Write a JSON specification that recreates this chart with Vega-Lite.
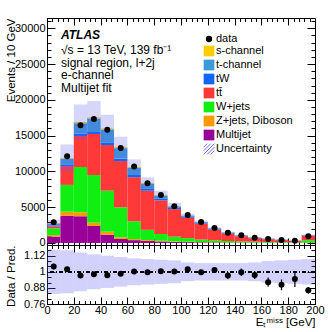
{
  "$schema": "https://vega.github.io/schema/vega-lite/v6.json",
  "background": "white",
  "padding": {"left": 4, "top": 14, "right": 8, "bottom": 0},
  "datasets": {
    "procs": [
      {"key": "mj", "process": "Multijet", "ord": 1},
      {"key": "zj", "process": "Z+jets, Diboson", "ord": 2},
      {"key": "wj", "process": "W+jets", "ord": 3},
      {"key": "tt", "process": "tt\u0304", "ord": 4},
      {"key": "tw", "process": "tW", "ord": 5},
      {"key": "tc", "process": "t-channel", "ord": 6},
      {"key": "sc", "process": "s-channel", "ord": 7}
    ],
    "bins": [
      {"lo": 0, "hi": 10, "mid": 5, "data": 2890, "ratio": 1.04, "rerr": 0.02, "ulo": 2321, "uhi": 3239, "rlo": 0.835, "rhi": 1.165, "mj": 900, "zj": 200, "wj": 950, "tt": 280, "tw": 95, "tc": 285, "sc": 70},
      {"lo": 10, "hi": 20, "mid": 15, "data": 12110, "ratio": 1.02, "rerr": 0.01, "ulo": 9971, "uhi": 13769, "rlo": 0.84, "rhi": 1.16, "mj": 3820, "zj": 560, "wj": 3740, "tt": 2630, "tw": 250, "tc": 780, "sc": 90},
      {"lo": 20, "hi": 30, "mid": 25, "data": 16440, "ratio": 0.972, "rerr": 0.008, "ulo": 14458, "uhi": 19362, "rlo": 0.855, "rhi": 1.145, "mj": 3730, "zj": 560, "wj": 6330, "tt": 4330, "tw": 350, "tc": 1450, "sc": 160},
      {"lo": 30, "hi": 40, "mid": 35, "data": 17320, "ratio": 0.982, "rerr": 0.008, "ulo": 15269, "uhi": 19832, "rlo": 0.87, "rhi": 1.13, "mj": 2380, "zj": 460, "wj": 6660, "tt": 5730, "tw": 280, "tc": 1890, "sc": 150},
      {"lo": 40, "hi": 50, "mid": 45, "data": 15830, "ratio": 0.974, "rerr": 0.008, "ulo": 14080, "uhi": 17920, "rlo": 0.88, "rhi": 1.12, "mj": 1160, "zj": 420, "wj": 5730, "tt": 6380, "tw": 380, "tc": 1780, "sc": 150},
      {"lo": 50, "hi": 60, "mid": 55, "data": 13270, "ratio": 0.985, "rerr": 0.009, "ulo": 11908, "uhi": 14852, "rlo": 0.89, "rhi": 1.11, "mj": 560, "zj": 240, "wj": 4190, "tt": 6460, "tw": 350, "tc": 1450, "sc": 130},
      {"lo": 60, "hi": 70, "mid": 65, "data": 10690, "ratio": 1.003, "rerr": 0.01, "ulo": 9558, "uhi": 11682, "rlo": 0.9, "rhi": 1.1, "mj": 400, "zj": 150, "wj": 2480, "tt": 6170, "tw": 300, "tc": 1000, "sc": 120},
      {"lo": 70, "hi": 80, "mid": 75, "data": 8360, "ratio": 0.997, "rerr": 0.011, "ulo": 7593, "uhi": 9187, "rlo": 0.905, "rhi": 1.095, "mj": 300, "zj": 120, "wj": 1420, "tt": 5460, "tw": 250, "tc": 750, "sc": 90},
      {"lo": 80, "hi": 90, "mid": 85, "data": 6720, "ratio": 1.005, "rerr": 0.012, "ulo": 6097, "uhi": 7303, "rlo": 0.91, "rhi": 1.09, "mj": 220, "zj": 100, "wj": 940, "tt": 4700, "tw": 220, "tc": 450, "sc": 70},
      {"lo": 90, "hi": 100, "mid": 95, "data": 5120, "ratio": 1.003, "rerr": 0.014, "ulo": 4721, "uhi": 5599, "rlo": 0.915, "rhi": 1.085, "mj": 150, "zj": 80, "wj": 650, "tt": 3850, "tw": 180, "tc": 200, "sc": 50},
      {"lo": 100, "hi": 110, "mid": 105, "data": 3910, "ratio": 1.02, "rerr": 0.016, "ulo": 3562, "uhi": 4098, "rlo": 0.93, "rhi": 1.07, "mj": 120, "zj": 60, "wj": 500, "tt": 2850, "tw": 140, "tc": 130, "sc": 30},
      {"lo": 110, "hi": 120, "mid": 115, "data": 2930, "ratio": 0.997, "rerr": 0.018, "ulo": 2749, "uhi": 3131, "rlo": 0.935, "rhi": 1.065, "mj": 90, "zj": 50, "wj": 330, "tt": 2240, "tw": 110, "tc": 100, "sc": 20},
      {"lo": 120, "hi": 130, "mid": 125, "data": 2090, "ratio": 1.013, "rerr": 0.022, "ulo": 1926, "uhi": 2194, "rlo": 0.935, "rhi": 1.065, "mj": 70, "zj": 40, "wj": 260, "tt": 1520, "tw": 80, "tc": 70, "sc": 20},
      {"lo": 130, "hi": 140, "mid": 135, "data": 1440, "ratio": 0.972, "rerr": 0.025, "ulo": 1384, "uhi": 1576, "rlo": 0.935, "rhi": 1.065, "mj": 50, "zj": 30, "wj": 200, "tt": 1050, "tw": 70, "tc": 60, "sc": 20},
      {"lo": 140, "hi": 150, "mid": 145, "data": 1070, "ratio": 0.997, "rerr": 0.028, "ulo": 1000, "uhi": 1140, "rlo": 0.935, "rhi": 1.065, "mj": 40, "zj": 25, "wj": 160, "tt": 720, "tw": 55, "tc": 50, "sc": 20},
      {"lo": 150, "hi": 160, "mid": 155, "data": 750, "ratio": 0.977, "rerr": 0.03, "ulo": 716, "uhi": 824, "rlo": 0.93, "rhi": 1.07, "mj": 30, "zj": 20, "wj": 130, "tt": 500, "tw": 45, "tc": 35, "sc": 10},
      {"lo": 160, "hi": 170, "mid": 165, "data": 560, "ratio": 0.923, "rerr": 0.035, "ulo": 558, "uhi": 656, "rlo": 0.92, "rhi": 1.08, "mj": 25, "zj": 15, "wj": 110, "tt": 380, "tw": 40, "tc": 30, "sc": 7},
      {"lo": 170, "hi": 180, "mid": 175, "data": 420, "ratio": 0.903, "rerr": 0.04, "ulo": 425, "uhi": 505, "rlo": 0.915, "rhi": 1.085, "mj": 20, "zj": 12, "wj": 95, "tt": 270, "tw": 35, "tc": 25, "sc": 8},
      {"lo": 180, "hi": 190, "mid": 185, "data": 320, "ratio": 0.946, "rerr": 0.06, "ulo": 309, "uhi": 371, "rlo": 0.91, "rhi": 1.09, "mj": 15, "zj": 10, "wj": 80, "tt": 190, "tw": 25, "tc": 15, "sc": 5},
      {"lo": 190, "hi": 200, "mid": 195, "data": 930, "ratio": 0.862, "rerr": 0.025, "ulo": 977, "uhi": 1183, "rlo": 0.905, "rhi": 1.095, "mj": 40, "zj": 25, "wj": 330, "tt": 580, "tw": 50, "tc": 45, "sc": 10}
    ]
  },
  "spacing": 0,
  "bounds": "flush",
  "vconcat": [
    {
      "width": 268,
      "height": 227,
      "title": {
        "text": "ATLAS",
        "subtitle": ["\u221as = 13 TeV, 139 fb\u207b\u00b9", "signal region, l+2j", "e-channel", "Multijet fit"],
        "anchor": "start",
        "frame": "group",
        "offset": -80,
        "dx": 14,
        "font": "Liberation Sans",
        "fontSize": 12,
        "fontWeight": "bold",
        "fontStyle": "italic",
        "color": "black",
        "subtitleFont": "Liberation Sans",
        "subtitleFontSize": 12,
        "subtitleColor": "black",
        "subtitleLineHeight": 12.7,
        "subtitlePadding": 3
      },
      "layer": [
        {
          "data": {"name": "bins"},
          "transform": [
            {"fold": ["mj", "zj", "wj", "tt", "tw", "tc", "sc"], "as": ["key", "n"]},
            {"lookup": "key", "from": {"data": {"name": "procs"}, "key": "key", "fields": ["process", "ord"]}},
            {"stack": "n", "groupby": ["lo"], "sort": [{"field": "ord", "order": "ascending"}], "as": ["y0", "y1"]}
          ],
          "mark": {"type": "rect", "strokeWidth": 0},
          "encoding": {
            "x": {"field": "lo", "type": "quantitative", "title": null, "scale": {"domain": [0, 200], "nice": false, "zero": false},
              "axis": {"labels": false, "title": null, "labelOverlap": false, "tickCount": 500, "minExtent": 0, "maxExtent": 0,
                "values": [0,4,8,12,16,20,24,28,32,36,40,44,48,52,56,60,64,68,72,76,80,84,88,92,96,100,104,108,112,116,120,124,128,132,136,140,144,148,152,156,160,164,168,172,176,180,184,188,192,196,200],
                "gridDash": {"condition": {"test": "datum.value % 20 === 0", "value": [7, 213, 7, 1000]}, "value": [3.5, 220, 3.5, 1000]}}},
            "x2": {"field": "hi"},
            "y": {"field": "y0", "type": "quantitative", "title": "Events / 10 GeV", "scale": {"domain": [-280, 31440], "nice": false, "zero": false},
              "axis": {"titleX": -33, "titleY": 0, "titleAlign": "right", "titleAngle": -90, "titleBaseline": "alphabetic",
                "format": "d", "labelOverlap": false, "tickCount": 500,
                "values": [0,1000,2000,3000,4000,5000,6000,7000,8000,9000,10000,11000,12000,13000,14000,15000,16000,17000,18000,19000,20000,21000,22000,23000,24000,25000,26000,27000,28000,29000,30000,31000],
                "labelExpr": "datum.value % 5000 === 0 ? datum.label : ''",
                "gridDash": {"condition": {"test": "datum.value % 5000 === 0", "value": [8, 252, 8, 1000]}, "value": [4, 260, 4, 1000]}}},
            "y2": {"field": "y1"},
            "color": {"field": "process", "type": "nominal",
              "scale": {"domain": ["data", "s-channel", "t-channel", "tW", "tt\u0304", "W+jets", "Z+jets, Diboson", "Multijet", "Uncertainty"],
                "range": ["black", "#ffcc00", "#3b99d6", "#1166ff", "#ff3838", "#11ee11", "#ff9900", "#990099", "#8080f0"]},
              "legend": {
                "encode": {
                  "symbols": {
                    "update": {
                      "shape": {"signal": "datum.value === 'data' ? 'circle' : datum.value === 'Uncertainty' ? 'M-1,-0.33L-0.33,-1M-1,0.33L0.33,-1M-1,1L1,-1M-0.33,1L1,-0.33M0.33,1L1,0.33' : 'square'"},
                      "size": {"signal": "datum.value === 'data' ? 40 : 115"},
                      "stroke": {"signal": "datum.value === 'Uncertainty' ? '#6b6bf0' : 'transparent'"},
                      "strokeWidth": {"value": 1},
                      "fillOpacity": {"signal": "datum.value === 'Uncertainty' ? 0 : 1"}
                    }
                  }
                }
              }}
          }
        },
        {
          "data": {"name": "bins"},
          "mark": {"type": "rect", "color": "#5a5af0", "opacity": 0.25},
          "encoding": {
            "x": {"field": "lo", "type": "quantitative", "title": null},
            "x2": {"field": "hi"},
            "y": {"field": "ulo", "type": "quantitative", "title": "Events / 10 GeV"},
            "y2": {"field": "uhi"}
          }
        },
        {
          "data": {"name": "bins"},
          "mark": {"type": "circle", "color": "black", "size": 36, "opacity": 1},
          "encoding": {
            "x": {"field": "mid", "type": "quantitative", "title": null},
            "y": {"field": "data", "type": "quantitative", "title": "Events / 10 GeV"}
          }
        }
      ]
    },
    {
      "width": 268,
      "height": 59,
      "layer": [
        {
          "data": {"name": "bins"},
          "mark": {"type": "rect", "color": "#5a5af0", "opacity": 0.28},
          "encoding": {
            "x": {"field": "lo", "type": "quantitative", "title": "E\u209c\u1d50\u2071\u02e2\u02e2 [GeV]", "scale": {"domain": [0, 200], "nice": false, "zero": false},
              "axis": {"titleAnchor": "end", "titlePadding": 1.5, "titleFontSize": 11.5, "labelOverlap": false, "tickCount": 500, "format": "d",
                "values": [0,4,8,12,16,20,24,28,32,36,40,44,48,52,56,60,64,68,72,76,80,84,88,92,96,100,104,108,112,116,120,124,128,132,136,140,144,148,152,156,160,164,168,172,176,180,184,188,192,196,200],
                "labelExpr": "datum.value % 20 === 0 ? datum.label : ''",
                "labelPadding": 0,
                "gridDash": {"condition": {"test": "datum.value % 20 === 0", "value": [7, 45, 7, 1000]}, "value": [3.5, 52, 3.5, 1000]}}},
            "x2": {"field": "hi"},
            "y": {"field": "rlo", "type": "quantitative", "title": "Data / Pred.", "scale": {"domain": [0.76, 1.2], "nice": false, "zero": false},
              "axis": {"titleX": -33, "titleY": 0, "titleAlign": "right", "titleAngle": -90, "titleBaseline": "alphabetic", "labelOverlap": false, "tickCount": 500,
                "values": [0.76, 0.8, 0.84, 0.88, 0.92, 0.96, 1, 1.04, 1.08, 1.12, 1.16],
                "labelExpr": "(datum.value === 0.76 || datum.value === 0.88 || datum.value === 1 || datum.value === 1.12) ? '' + datum.value : ''",
                "gridDash": {"condition": {"test": "datum.value === 0.76 || datum.value === 0.88 || datum.value === 1 || datum.value === 1.12", "value": [8, 252, 8, 1000]}, "value": [4, 260, 4, 1000]}}},
            "y2": {"field": "rhi"}
          }
        },
        {
          "data": {"name": "bins"},
          "mark": {"type": "rule", "color": "black", "strokeWidth": 1, "strokeDash": [4, 2, 1, 2]},
          "encoding": {"y": {"datum": 1, "title": "Data / Pred."}}
        },
        {
          "data": {"name": "bins"},
          "mark": {"type": "errorbar", "color": "black", "thickness": 1.2},
          "encoding": {
            "x": {"field": "mid", "type": "quantitative", "title": "E\u209c\u1d50\u2071\u02e2\u02e2 [GeV]"},
            "y": {"field": "ratio", "type": "quantitative", "title": "Data / Pred."},
            "yError": {"field": "rerr"}
          }
        },
        {
          "data": {"name": "bins"},
          "mark": {"type": "circle", "color": "black", "size": 36, "opacity": 1},
          "encoding": {
            "x": {"field": "mid", "type": "quantitative", "title": "E\u209c\u1d50\u2071\u02e2\u02e2 [GeV]"},
            "y": {"field": "ratio", "type": "quantitative", "title": "Data / Pred."}
          }
        }
      ]
    }
  ],
  "config": {
    "font": "Liberation Sans",
    "view": {"stroke": "black", "strokeWidth": 1},
    "axis": {
      "labelFont": "Liberation Sans", "labelFontSize": 11, "labelColor": "black",
      "titleFont": "Liberation Sans", "titleFontSize": 11.5, "titleColor": "black", "titleFontWeight": "normal",
      "domain": true, "domainColor": "black", "domainWidth": 1,
      "ticks": false, "grid": true, "gridColor": "black", "gridOpacity": 1, "gridWidth": 1,
      "zindex": 1, "labelOverlap": false, "labelFlush": false, "labelBound": false, "labelPadding": 2
    },
    "legend": {
      "orient": "none", "legendX": 156, "legendY": 15,
      "title": null, "labelFont": "Liberation Sans", "labelFontSize": 11, "labelColor": "black",
      "symbolSize": 115, "symbolType": "square", "rowPadding": -3.9, "labelOffset": 1,
      "symbolStrokeWidth": 0, "padding": 0, "labelLimit": 200
    }
  }
}
